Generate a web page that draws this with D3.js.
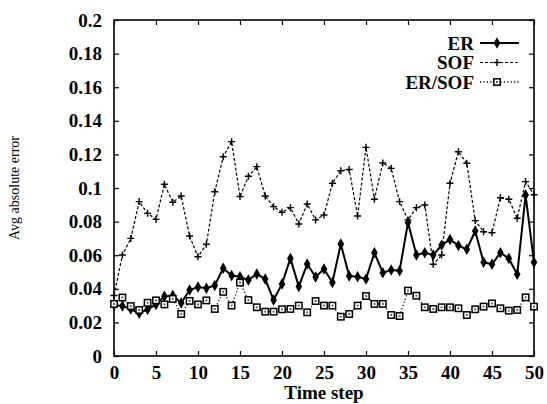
<!DOCTYPE html>
<html><head><meta charset="utf-8">
<script src="https://cdn.jsdelivr.net/npm/d3@7"></script>
<style>html,body{margin:0;padding:0;background:#fff;}</style>
</head><body>
<svg id="c" width="547" height="404"></svg>
<script>
const steps = d3.range(0, 51);
const erValues = [0.0304,0.0298,0.0279,0.0254,0.0278,0.0307,0.0355,0.0360,0.0315,0.0393,0.0411,0.0403,0.0420,0.0522,0.0479,0.0472,0.0452,0.0488,0.0458,0.0333,0.0429,0.0581,0.0413,0.0548,0.0470,0.0518,0.0438,0.0667,0.0476,0.0472,0.0458,0.0615,0.0496,0.0512,0.0508,0.0794,0.0601,0.0615,0.0601,0.0660,0.0694,0.0657,0.0635,0.0744,0.0558,0.0546,0.0615,0.0581,0.0486,0.0958,0.0558];
const sofValues = [0.036,0.0601,0.0700,0.0919,0.0849,0.0813,0.1022,0.0915,0.0952,0.0714,0.0591,0.0665,0.0978,0.1186,0.1276,0.0949,0.1070,0.1127,0.0952,0.0889,0.0855,0.0883,0.0786,0.0905,0.0810,0.0839,0.1028,0.1103,0.1110,0.0833,0.1242,0.0933,0.1149,0.1117,0.0919,0.0810,0.0883,0.0899,0.0546,0.0601,0.1028,0.1216,0.1147,0.0806,0.0740,0.0734,0.0942,0.0933,0.0820,0.1038,0.0960];
const ratioValues = [0.0310,0.0348,0.0297,0.0274,0.0317,0.0331,0.0307,0.0340,0.0250,0.0328,0.0307,0.0331,0.0280,0.0382,0.0300,0.0437,0.0333,0.0290,0.0264,0.0264,0.0278,0.0280,0.0300,0.0260,0.0327,0.0300,0.0300,0.0234,0.0250,0.0300,0.0357,0.0310,0.0310,0.0244,0.0238,0.0389,0.0359,0.0290,0.0280,0.0290,0.0290,0.0284,0.0244,0.0278,0.0294,0.0313,0.0284,0.0270,0.0274,0.0349,0.0294];
const yTicks = [0,0.02,0.04,0.06,0.08,0.1,0.12,0.14,0.16,0.18,0.2];
const xTicks = [0,5,10,15,20,25,30,35,40,45,50];
const seriesNames = ["ER","SOF","ER/SOF"];

const L=114, R=534, T=20, B=356;
const x = d3.scaleLinear().domain([0,50]).range([L,R]);
const y = d3.scaleLinear().domain([0,0.2]).range([B,T]);
const svg = d3.select("#c");
const font = "'Liberation Serif','Times New Roman',serif";

const fmtY = d => d===0 ? "0" : String(+d.toFixed(2));
const axL = svg.append("g").attr("transform",`translate(${L},0)`)
  .call(d3.axisLeft(y).tickValues(yTicks).tickSize(-5).tickPadding(12).tickFormat(fmtY));
const axR = svg.append("g").attr("transform",`translate(${R},0)`)
  .call(d3.axisRight(y).tickValues(yTicks).tickSize(-5).tickFormat(""));
const axB = svg.append("g").attr("transform",`translate(0,${B})`)
  .call(d3.axisBottom(x).tickValues(xTicks).tickSize(-5).tickPadding(10).tickFormat(d3.format("d")));
const axT = svg.append("g").attr("transform",`translate(0,${T})`)
  .call(d3.axisTop(x).tickValues(xTicks).tickSize(-5).tickFormat(""));
[axL,axR,axB,axT].forEach(a=>{
  a.select(".domain").remove();
  a.selectAll(".tick line").attr("stroke","#000").attr("stroke-width",1.2);
  a.selectAll("text").attr("font-family",font).attr("font-size",19).attr("font-weight","bold").attr("fill","#000");
});
axB.selectAll("text").attr("dy","0.71em");
svg.append("rect").attr("x",L).attr("y",T).attr("width",R-L).attr("height",B-T)
  .attr("fill","none").attr("stroke","#000").attr("stroke-width",1.6);

svg.append("text").attr("x",(L+R)/2).attr("y",399).attr("text-anchor","middle")
  .attr("font-family",font).attr("font-size",19).attr("font-weight","bold").text("Time step");
svg.append("text").attr("transform",`translate(19,${(T+B)/2}) rotate(-90)`).attr("text-anchor","middle")
  .attr("font-family",font).attr("font-size",14).text("Avg absolute error");

const line = d3.line().x((d,i)=>x(steps[i])).y(d=>y(d));

function plus(g, cx, cy){
  g.append("path").attr("d",`M${cx-3.5},${cy}H${cx+3.5}M${cx},${cy-3.5}V${cy+3.5}`)
    .attr("stroke","#000").attr("stroke-width",1.4).attr("fill","none");
}
function diamond(g,cx,cy){
  g.append("path").attr("d",d3.symbol(d3.symbolDiamond,38)()).attr("transform",`translate(${cx},${cy})`).attr("fill","#000");
}
function square(g,cx,cy){
  g.append("rect").attr("x",cx-3.2).attr("y",cy-3.2).attr("width",6.4).attr("height",6.4)
    .attr("fill","#fff").attr("stroke","#000").attr("stroke-width",1.5);
  g.append("rect").attr("x",cx-1).attr("y",cy-1).attr("width",2).attr("height",2).attr("fill","#666");
}

const styles = [
  {vals: erValues, dash:null, w:2, mk:diamond},
  {vals: sofValues, dash:"3,2", w:1.2, mk:plus},
  {vals: ratioValues, dash:"1.2,2.2", w:1.3, mk:square}
];
styles.forEach(s=>{
  const g = svg.append("g");
  g.append("path").attr("d",line(s.vals)).attr("fill","none").attr("stroke","#000")
    .attr("stroke-width",s.w).attr("stroke-dasharray",s.dash);
  s.vals.forEach((v,i)=>s.mk(g,x(steps[i]),y(v)));
});

const legY = [43,62.5,82];
seriesNames.forEach((n,i)=>{
  const s = styles[i];
  const g = svg.append("g");
  g.append("text").attr("x",474).attr("y",legY[i]).attr("dy","0.35em").attr("text-anchor","end")
    .attr("font-family",font).attr("font-size",19).attr("font-weight","bold").text(n);
  g.append("line").attr("x1",480).attr("x2",519).attr("y1",legY[i]).attr("y2",legY[i])
    .attr("stroke","#000").attr("stroke-width",s.w).attr("stroke-dasharray",s.dash);
  s.mk(g,497,legY[i]);
});
</script>
</body></html>
